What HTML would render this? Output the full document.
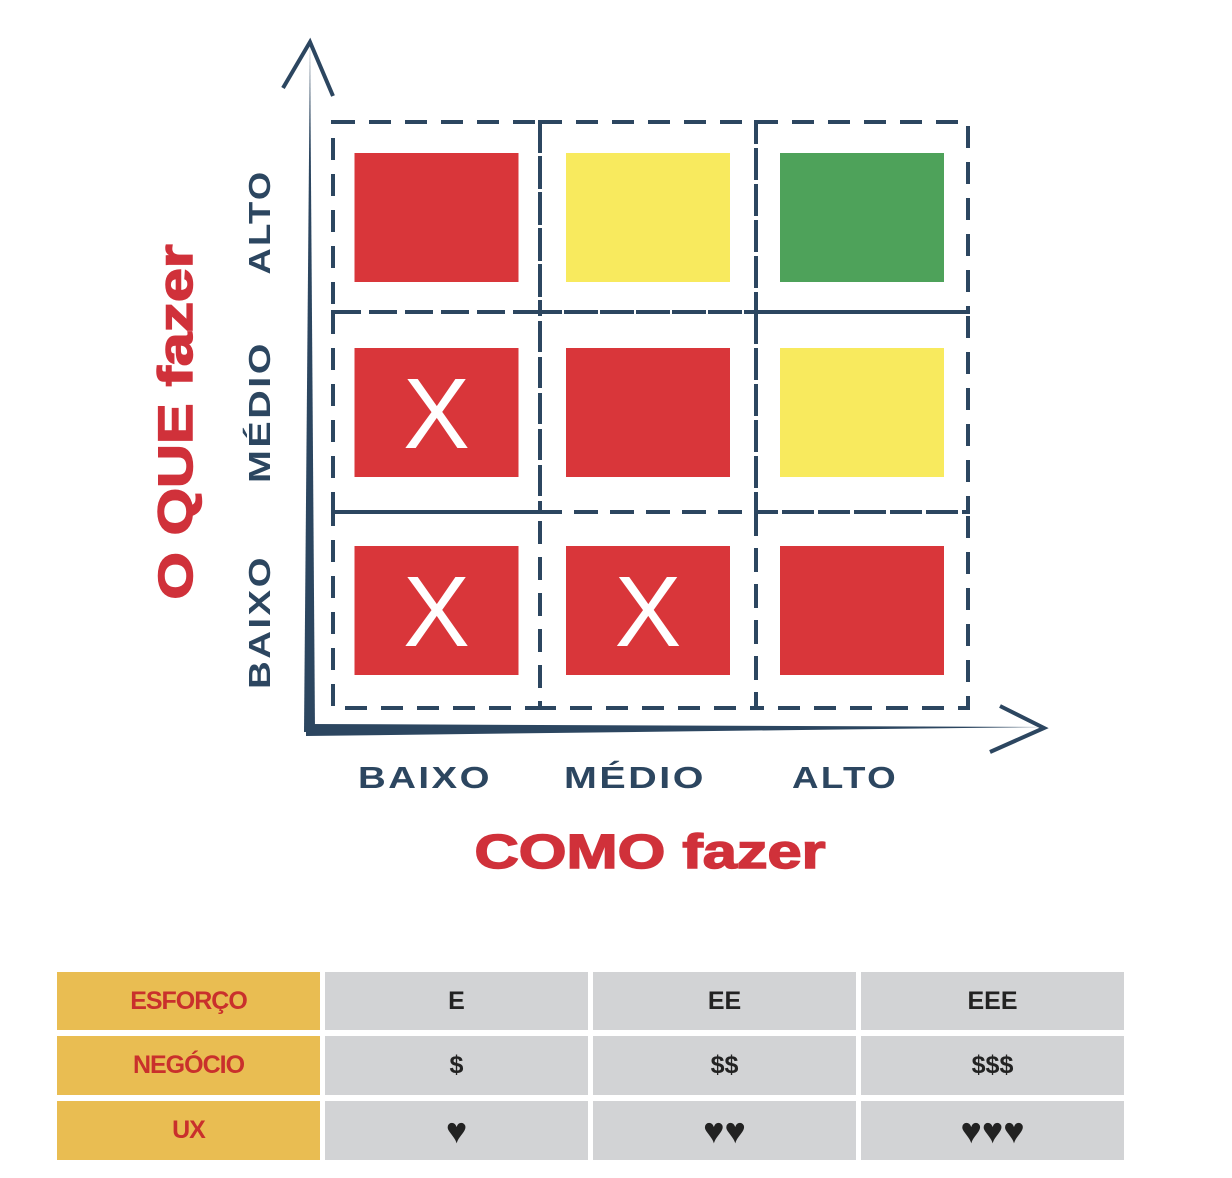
<!DOCTYPE html>
<html><head><meta charset="utf-8"><style>
body{margin:0;background:#fff;width:1232px;height:1178px;overflow:hidden;font-family:"Liberation Sans",sans-serif}
svg{position:absolute;left:0;top:0}
table{position:absolute;left:57px;top:972px;border-collapse:separate;border-spacing:5px 6px;margin:-6px -5px}
td{width:263px;text-align:center;font-weight:bold;font-size:25px;background:#d2d3d5;color:#222;padding:0}
td.h{background:#e9bd52;color:#c9302c;font-size:25px;letter-spacing:-1px}
</style></head><body>
<svg width="1232" height="960" id="chart">
<path d="M304,732 L310,42 L315,732 Z" fill="#2c4660"/>
<polyline points="283,88 310,42 333,96" fill="none" stroke="#2c4660" stroke-width="4"/>
<path d="M306,724 L1044,727 L306,736 Z" fill="#2c4660"/>
<polyline points="1000,706 1044,728 990,752" fill="none" stroke="#2c4660" stroke-width="4"/>
<g id="cells"></g>
<g font-weight="bold" fill="#2c4660" font-size="31" text-anchor="middle" letter-spacing="2" lengthAdjust="spacingAndGlyphs">
<text x="425" y="788" textLength="134" lengthAdjust="spacingAndGlyphs">BAIXO</text>
<text x="635" y="788" textLength="142" lengthAdjust="spacingAndGlyphs">MÉDIO</text>
<text x="845" y="788" textLength="106" lengthAdjust="spacingAndGlyphs">ALTO</text>
<text transform="translate(270,222) rotate(-90)" textLength="105" lengthAdjust="spacingAndGlyphs">ALTO</text>
<text transform="translate(270,412) rotate(-90)" textLength="142" lengthAdjust="spacingAndGlyphs">MÉDIO</text>
<text transform="translate(270,622) rotate(-90)" textLength="134" lengthAdjust="spacingAndGlyphs">BAIXO</text>
</g>
<text x="650" y="868" text-anchor="middle" font-size="48" font-weight="bold" fill="#d0313a" textLength="351" lengthAdjust="spacingAndGlyphs" stroke="#d0313a" stroke-width="1.5">COMO fazer</text>
<text transform="translate(192,422) rotate(-90)" text-anchor="middle" font-size="48" font-weight="bold" fill="#d0313a" textLength="355" lengthAdjust="spacingAndGlyphs" stroke="#d0313a" stroke-width="1.5">O QUE fazer</text>
</svg>
<table>
<tr style="height:58px"><td class="h">ESFORÇO</td><td>E</td><td>EE</td><td>EEE</td></tr>
<tr style="height:59px"><td class="h">NEGÓCIO</td><td>$</td><td>$$</td><td>$$$</td></tr>
<tr style="height:59px"><td class="h">UX</td><td style="font-size:36px">♥</td><td style="font-size:36px">♥♥</td><td style="font-size:36px">♥♥♥</td></tr>
</table>
<script>
const cellColors=[["#d9363a","#f8ea5e","#4ea25a"],["#d9363a","#d9363a","#f8ea5e"],["#d9363a","#d9363a","#d9363a"]];
const cellMarks=[[false,false,false],[true,false,false],[true,true,false]];
const colX=[333,540,756,968], rowY=[122,312,512,708];
const g=document.getElementById('cells'),NS='http://www.w3.org/2000/svg';
for(let r=0;r<3;r++)for(let c=0;c<3;c++){
 const x0=colX[c],x1=colX[c+1],y0=rowY[r],y1=rowY[r+1];
 const d=document.createElementNS(NS,'rect');
 d.setAttribute('x',x0);d.setAttribute('y',y0);d.setAttribute('width',x1-x0);d.setAttribute('height',y1-y0);
 d.setAttribute('fill','none');d.setAttribute('stroke','#2c4660');d.setAttribute('stroke-width','4');d.setAttribute('stroke-dasharray','22,14');
 
 
 g.appendChild(d);
 const cx=(x0+x1)/2,cy=(y0+y1)/2;
 const s=document.createElementNS(NS,'rect');
 s.setAttribute('x',cx-82);s.setAttribute('y',cy-64);s.setAttribute('width',164);s.setAttribute('height',129);s.setAttribute('fill',cellColors[r][c]);
 
 
 g.appendChild(s);
 if(cellMarks[r][c]){
  const t=document.createElementNS(NS,'text');
  t.setAttribute('x',cx);t.setAttribute('y',cy+36);t.setAttribute('text-anchor','middle');t.setAttribute('font-size','100');t.setAttribute('fill','#fff');
  t.textContent='X';
  
  
  g.appendChild(t);
 }
}
</script>
</body></html>
